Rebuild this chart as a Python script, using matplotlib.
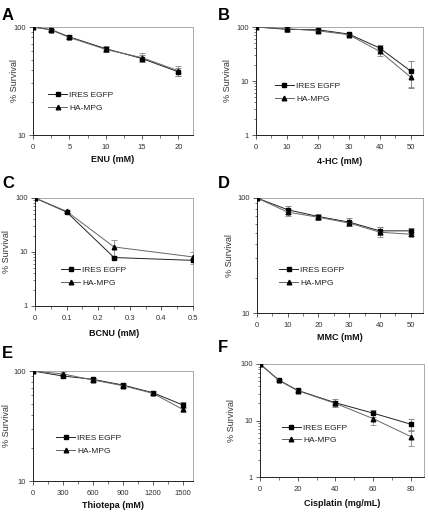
import matplotlib
matplotlib.use("Agg")
import matplotlib.pyplot as plt
from matplotlib.ticker import FixedLocator, NullFormatter, LogLocator
from matplotlib.lines import Line2D
import numpy as np

plt.rcParams['font.family'] = ['Liberation Sans', 'DejaVu Sans']

W, H = 428, 512

# ---------------- data ----------------
a_x = [0, 2.5, 5, 10, 15, 20]
a_ires = [100, 94.5, 81, 63, 51, 38.4]
a_ires_err = [0, 2, 3, 4, 4, 3]
a_ha = [100, 94, 80, 62, 52, 39.3]
a_ha_err = [0, 2, 3, 3, 5, 4]

b_x = [0, 10, 20, 30, 40, 50]
b_ires = [100, 90.5, 89, 74, 40.8, 15.3]
b_ires_err = [0, 8, 4, 3, 5, 8]
b_ha = [100, 93, 85, 72, 35.4, 11.8]
b_ha_err = [0, 5, 3, 3, 6, 4]

c_x = [0, 0.1, 0.25, 0.5]
c_ires = [100, 55, 7.9, 7.0]
c_ires_err = [0, 3, 0.5, 0.5]
c_ha = [100, 56.7, 12.4, 8.1]
c_ha_err = [0, 3, 4.3, 2]

d_x = [0, 10, 20, 30, 40, 50]
d_ires = [100, 79, 69, 61.7, 51.8, 51.8]
d_ires_err = [0, 6, 3, 5, 4, 3]
d_ha = [100, 75.4, 68, 60.5, 50.4, 48.4]
d_ha_err = [0, 5, 3, 3, 5, 2]

e_x = [0, 300, 600, 900, 1200, 1500]
e_ires = [100, 90, 84, 74.5, 63.4, 49.0]
e_ires_err = [0, 3, 3, 3, 3, 3]
e_ha = [100, 94, 82.8, 73.5, 62.6, 44.7]
e_ha_err = [0, 3, 3, 3, 2, 2]

f_x = [0, 10, 20, 40, 60, 80]
f_ires = [100, 52, 34.1, 20.6, 13.5, 8.6]
f_ires_err = [0, 2, 2, 3, 2, 2]
f_ha = [100, 51.3, 33.7, 20.1, 10.8, 5.2]
f_ha_err = [0, 2, 2, 2, 2.5, 1.7]

labels = ["IRES EGFP", "HA-MPG"]

panels = [
    dict(letter="A", x=a_x, y1=a_ires, e1=a_ires_err, y2=a_ha, e2=a_ha_err,
         xlabel="ENU (mM)", xlim=(0, 22), xticks=[0, 5, 10, 15, 20], xminor=2.5,
         ylim=(10, 100), box=(33, 193, 27, 135), let=(2, 15), xl_y=160, yl_x=15,
         leg=(0.06, 0.31)),
    dict(letter="B", x=b_x, y1=b_ires, e1=b_ires_err, y2=b_ha, e2=b_ha_err,
         xlabel="4-HC (mM)", xlim=(0, 54), xticks=[0, 10, 20, 30, 40, 50], xminor=5,
         ylim=(1, 100), box=(256, 423, 27, 135), let=(218, 15), xl_y=162, yl_x=227,
         leg=(0.08, 0.39)),
    dict(letter="C", x=c_x, y1=c_ires, e1=c_ires_err, y2=c_ha, e2=c_ha_err,
         xlabel="BCNU (mM)", xlim=(0, 0.5), xticks=[0, 0.1, 0.2, 0.3, 0.4, 0.5], xminor=0.05,
         ylim=(1, 100), box=(35, 193, 198, 306), let=(2, 184), xl_y=333, yl_x=7,
         leg=(0.13, 0.27)),
    dict(letter="D", x=d_x, y1=d_ires, e1=d_ires_err, y2=d_ha, e2=d_ha_err,
         xlabel="MMC (mM)", xlim=(0, 54), xticks=[0, 10, 20, 30, 40, 50], xminor=5,
         ylim=(10, 100), box=(257, 423, 198, 313), let=(218, 184), xl_y=337, yl_x=229,
         leg=(0.1, 0.32)),
    dict(letter="E", x=e_x, y1=e_ires, e1=e_ires_err, y2=e_ha, e2=e_ha_err,
         xlabel="Thiotepa (mM)", xlim=(0, 1600), xticks=[0, 300, 600, 900, 1200, 1500], xminor=150,
         ylim=(10, 100), box=(33, 193, 371, 481), let=(2, 354), xl_y=506, yl_x=7,
         leg=(0.11, 0.33)),
    dict(letter="F", x=f_x, y1=f_ires, e1=f_ires_err, y2=f_ha, e2=f_ha_err,
         xlabel="Cisplatin (mg/mL)", xlim=(0, 87), xticks=[0, 20, 40, 60, 80], xminor=10,
         ylim=(1, 100), box=(260, 424, 364, 477), let=(218, 348), xl_y=503, yl_x=231,
         leg=(0.1, 0.38)),
]

fig = plt.figure(figsize=(W / 100, H / 100), dpi=100)

styles = [dict(color="#222222", marker="s", ecolor="#777777"),
          dict(color="#666666", marker="^", ecolor="#888888")]

for p in panels:
    l, r, t, b = p["box"]
    ax = fig.add_axes([l / W, 1 - b / H, (r - l) / W, (b - t) / H])
    ax.set_yscale("log")
    handles = []
    for (yv, ev), st, lab in zip([(p["y1"], p["e1"]), (p["y2"], p["e2"])], styles, labels):
        ax.errorbar(p["x"], yv, yerr=ev, color=st["color"], lw=0.7,
                    marker=st["marker"], ms=3.3, mfc="black", mec="black",
                    ecolor=st["ecolor"], elinewidth=0.6, capsize=2.2, capthick=0.6,
                    zorder=3)
        handles.append(Line2D([], [], color=st["color"], lw=0.7, marker=st["marker"],
                              ms=3.3, mfc="black", mec="black", label=lab))
    ax.set_xlim(*p["xlim"])
    ax.xaxis.set_major_locator(FixedLocator(p["xticks"]))
    ax.set_xticklabels([f"{v:g}" for v in p["xticks"]])
    mn = np.arange(0, p["xlim"][1] + 1e-9, p["xminor"])
    ax.xaxis.set_minor_locator(FixedLocator(list(mn)))
    ax.yaxis.set_major_locator(LogLocator(base=10, numticks=5))
    ax.yaxis.set_minor_locator(LogLocator(base=10, subs=np.arange(2, 10), numticks=10))
    ax.yaxis.set_minor_formatter(NullFormatter())
    ax.set_ylim(*p["ylim"])
    ax.set_yticklabels([f"{v:g}" for v in ax.get_yticks()])
    ax.set_ylim(*p["ylim"])
    ax.tick_params(axis="both", which="major", direction="out", length=3, width=0.6,
                   labelsize=5.5, colors="#444444", labelcolor="#333333")
    ax.tick_params(axis="x", which="major", pad=3.5)
    ax.tick_params(axis="y", which="major", pad=2)
    ax.tick_params(axis="both", which="minor", direction="out", length=1.8, width=0.5,
                   colors="#444444")
    for s in ["left", "bottom"]:
        ax.spines[s].set_color("#222222")
        ax.spines[s].set_linewidth(0.7)
    for s in ["top", "right"]:
        ax.spines[s].set_color("#aaaaaa")
        ax.spines[s].set_linewidth(0.7)
    fig.text(p["yl_x"] / W, 1 - ((t + b) / 2) / H, "% Survival", rotation=90,
             ha="center", va="center", fontsize=6.5, color="#333333")
    fig.text((l + r) / 2 / W, 1 - p["xl_y"] / H, p["xlabel"], ha="center", va="center",
             fontsize=6.5, fontweight="bold", color="#111111")
    fig.text(p["let"][0] / W, 1 - p["let"][1] / H, p["letter"], ha="left", va="center",
             fontsize=12, fontweight="bold", color="black")
    ax.legend(handles=handles, loc="center left", bbox_to_anchor=p["leg"], frameon=False,
              fontsize=6, handlelength=2.2, handletextpad=0.3, labelspacing=0.6,
              borderpad=0.2, labelcolor="#222222")

fig.savefig("out.png", dpi=100)
